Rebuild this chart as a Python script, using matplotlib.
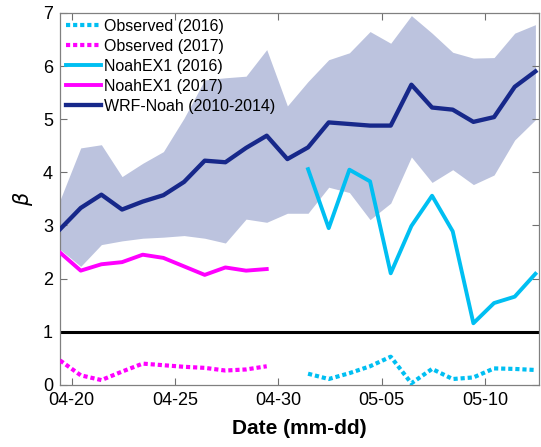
import numpy as np
import pandas as pd
import matplotlib
matplotlib.use("Agg")
import matplotlib.pyplot as plt
import matplotlib.dates as mdates

plt.rcParams['font.family'] = ['Liberation Sans', 'DejaVu Sans']

# daily values, first day 04-19 (plotted on a common mm-dd axis)
dates = pd.date_range("2016-04-19 10:30", periods=24, freq="D")

wrf_mean = [2.93, 3.33, 3.58, 3.30, 3.45, 3.57, 3.82, 4.22, 4.19, 4.46, 4.69, 4.25,
            4.47, 4.94, 4.91, 4.88, 4.88, 5.65, 5.22, 5.18, 4.95, 5.04, 5.61, 5.90]
wrf_upper = [3.48, 4.46, 4.52, 3.92, 4.17, 4.39, 5.02, 5.74, 5.78, 5.81, 6.31, 5.25,
             5.71, 6.12, 6.25, 6.65, 6.43, 6.95, 6.62, 6.26, 6.15, 6.16, 6.62, 6.78]
wrf_lower = [2.55, 2.23, 2.64, 2.71, 2.76, 2.78, 2.81, 2.76, 2.67, 3.12, 3.06, 3.23,
             3.23, 3.72, 3.62, 3.11, 3.42, 4.29, 3.81, 4.05, 3.77, 3.95, 4.61, 4.99]

# 2017: first 11 days, 2016: last 12 days
noah_2017 = [2.49, 2.15, 2.27, 2.31, 2.45, 2.39, 2.23, 2.07, 2.21, 2.15, 2.18]
obs_2017 = [0.46, 0.18, 0.09, 0.25, 0.40, 0.37, 0.34, 0.32, 0.27, 0.29, 0.35]
noah_2016 = [4.06, 2.95, 4.05, 3.83, 2.10, 2.99, 3.56, 2.89, 1.16, 1.54, 1.66, 2.09]
obs_2016 = [0.21, 0.11, 0.22, 0.35, 0.53, 0.03, 0.30, 0.11, 0.14, 0.31, 0.30, 0.28]

navy = '#17288a'
cyan = '#00bff2'
magenta = '#ff00ff'
dot = (0, (1.0, 0.7))

fig = plt.figure(figsize=(5.41, 4.47), dpi=100)
ax = fig.add_axes([0.111, 0.139, 0.885, 0.832])

ax.fill_between(dates, wrf_lower, wrf_upper, color='#bcc3de', lw=0, zorder=1)
ax.axhline(1, color='black', lw=2.2, zorder=2)

d17 = dates[:len(noah_2017)]
d16 = dates[-len(noah_2016):]
ax.plot(d16, obs_2016, color=cyan, lw=3.0, ls=dot, dash_capstyle='butt',
        label='Observed (2016)', zorder=3)
ax.plot(d17, obs_2017, color=magenta, lw=3.0, ls=dot, dash_capstyle='butt',
        label='Observed (2017)', zorder=3)
ax.plot(d16, noah_2016, color=cyan, lw=2.8, label='NoahEX1 (2016)', zorder=3)
ax.plot(d17, noah_2017, color=magenta, lw=2.8, label='NoahEX1 (2017)', zorder=3)
ax.plot(dates, wrf_mean, color=navy, lw=3.1, label='WRF-Noah (2010-2014)', zorder=4)

ax.set_xlim(dates[0], dates[-1] + pd.Timedelta(hours=4))
ax.set_ylim(0, 7)
ax.set_yticks(range(8))
ticks = pd.to_datetime(["2016-04-20", "2016-04-25", "2016-04-30", "2016-05-05", "2016-05-10"])
ax.set_xticks(ticks)
ax.xaxis.set_major_formatter(mdates.DateFormatter('%m-%d'))

ax.tick_params(direction='in', top=True, right=True, length=5, width=0.8,
               colors='#707070', labelcolor='black', labelsize=13, pad=5)
for s in ax.spines.values():
    s.set_color('#808080')
    s.set_linewidth(0.9)

ax.set_xlabel('Date (mm-dd)', fontsize=15, fontweight='bold', labelpad=7)
ax.set_ylabel(r'$\beta$', fontsize=15, labelpad=6)

ax.legend(loc='upper left', frameon=False, fontsize=11.5, handlelength=2.2,
          handletextpad=0.2, labelspacing=0.32, borderpad=0.25, borderaxespad=0.1)

fig.savefig('out.png', dpi=100)
